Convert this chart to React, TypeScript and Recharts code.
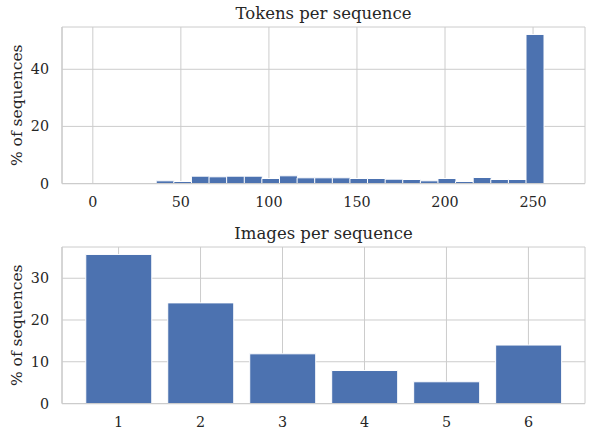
import { Bar, BarChart, CartesianGrid, Label, XAxis, YAxis } from "recharts";

// tokens histogram: bins of 10 tokens, edges span -4..266 (empty bins left out)
const tokenBinCenters = [41, 51, 61, 71, 81, 91, 101, 111, 121, 131, 141, 151, 161, 171, 181, 191, 201, 211, 221, 231, 241, 251];
const tokenShare = [0.94, 0.7, 2.57, 2.34, 2.57, 2.57, 1.75, 2.69, 1.99, 1.99, 1.99, 1.75, 1.75, 1.52, 1.4, 0.94, 1.75, 0.7, 2.1, 1.4, 1.4, 52.2];
const tokenBinRange = [-4, 266];
const tokenTicks = [0, 50, 100, 150, 200, 250];
const tokenPctTicks = [0, 20, 40];

const imageCounts = [1, 2, 3, 4, 5, 6];
const imageShare = [35.7, 24.1, 11.9, 7.9, 5.2, 14.0];
const imagePctTicks = [0, 10, 20, 30];

const FONT = "'DejaVu Serif', serif";
const INK = "#262626";
const GRID = "#cccccc";
const BLUE = "#4C72B0";
const TITLE_SIZE = 16.5;

const padded = (lo: number, hi: number): [number, number] => [lo - 0.05 * (hi - lo), hi + 0.05 * (hi - lo)];

function Panel({ title, data, xDomain, xTicks, yTop, yTicks, top, height, gap }: any) {
  const frame = { stroke: GRID, strokeWidth: 1.25 };
  const tick = { fill: INK, fontSize: 14.3, fontFamily: FONT };
  return (
    <div style={{ position: "relative", width: 592, height }}>
      <div
        style={{
          position: "absolute",
          left: 62,
          width: 523,
          top: top - 7 - TITLE_SIZE * 0.846,
          textAlign: "center",
          fontFamily: FONT,
          fontSize: TITLE_SIZE,
          lineHeight: 1,
          color: INK,
        }}
      >
        {title}
      </div>
      <BarChart width={592} height={height} data={data} margin={{ top, right: 7, bottom: 0, left: 0 }} barCategoryGap={gap}>
        <CartesianGrid stroke={GRID} strokeWidth={1} />
        <XAxis
          dataKey="x"
          type="number"
          domain={xDomain}
          ticks={xTicks}
          interval={0}
          allowDataOverflow
          height={height - top - 156.5}
          tickLine={false}
          tickSize={0}
          tickMargin={13}
          axisLine={frame}
          tick={tick}
        />
        <XAxis xAxisId="t" orientation="top" type="number" domain={xDomain} height={0} tick={false} tickLine={false} axisLine={frame} />
        <YAxis
          type="number"
          domain={[0, yTop]}
          ticks={yTicks}
          interval={0}
          allowDataOverflow
          width={62}
          tickLine={false}
          tickSize={0}
          tickMargin={13}
          axisLine={frame}
          tick={tick}
        >
          <Label value="% of sequences" angle={-90} position="center" dx={-15} style={{ fill: INK, fontSize: 15.5, fontFamily: FONT }} />
        </YAxis>
        <YAxis yAxisId="r" orientation="right" type="number" domain={[0, yTop]} width={0} tick={false} tickLine={false} axisLine={frame} />
        <Bar dataKey="v" fill={BLUE} stroke="#ffffff" strokeWidth={1} isAnimationActive={false} />
      </BarChart>
    </div>
  );
}

export default function App() {
  const tokenData = tokenBinCenters.map((x, i) => ({ x, v: tokenShare[i] }));
  const imageData = imageCounts.map((x, i) => ({ x, v: imageShare[i] }));
  return (
    <div style={{ position: "absolute", left: 0, top: 0, width: 592, height: 432, background: "#fff" }}>
      <Panel
        title="Tokens per sequence"
        data={tokenData}
        xDomain={padded(tokenBinRange[0], tokenBinRange[1])}
        xTicks={tokenTicks}
        yTop={Math.max(...tokenShare) * 1.05}
        yTicks={tokenPctTicks}
        top={27}
        height={216}
        gap={0}
      />
      <Panel
        title="Images per sequence"
        data={imageData}
        xDomain={padded(Math.min(...imageCounts) - 0.4, Math.max(...imageCounts) + 0.4)}
        xTicks={imageCounts}
        yTop={Math.max(...imageShare) * 1.05}
        yTicks={imagePctTicks}
        top={31}
        height={216}
        gap="10%"
      />
    </div>
  );
}
